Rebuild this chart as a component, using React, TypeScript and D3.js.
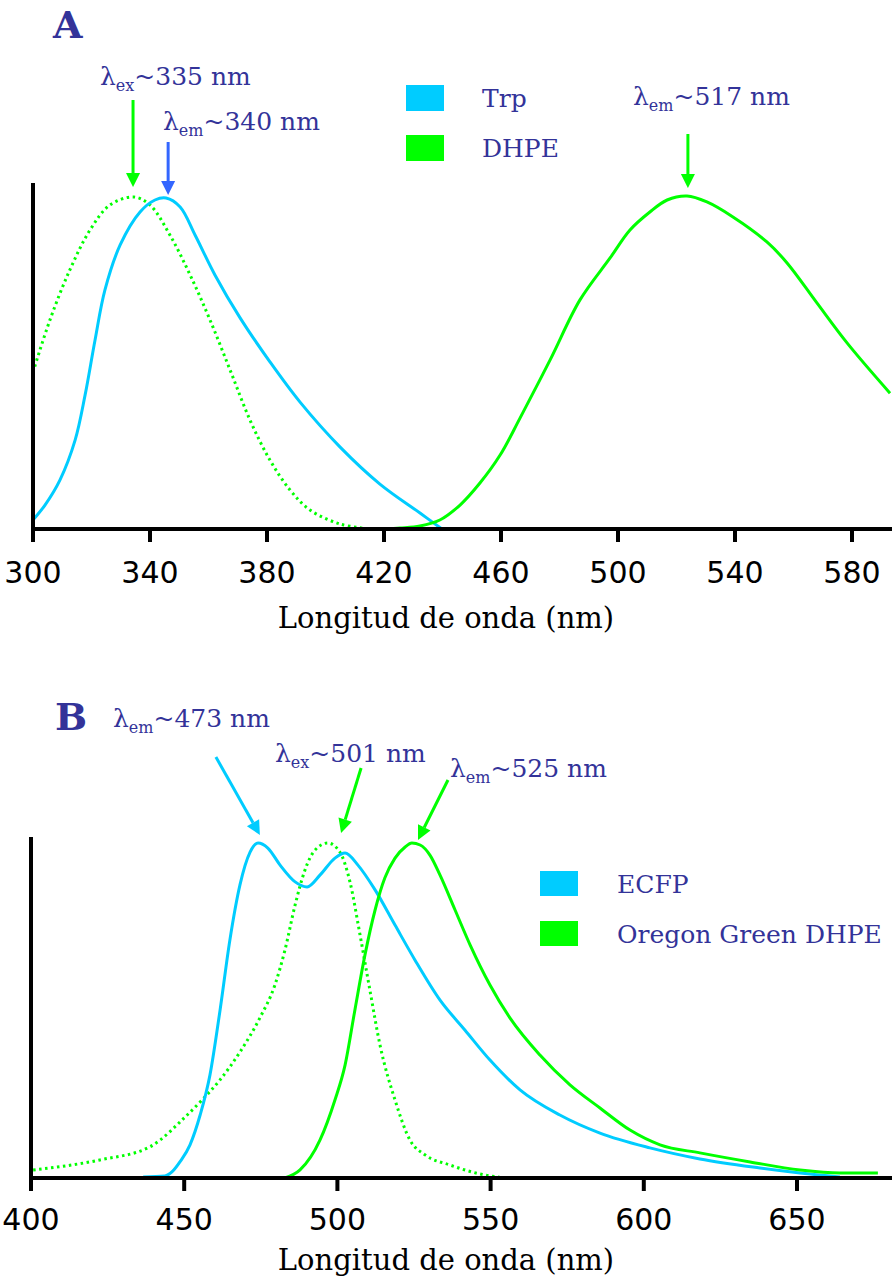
import React from 'react';
import * as d3 from 'd3';

// ---------------- Data ----------------
// Panel A (x in nm, relative intensity 0..1)
const trpNm = [300, 304.1, 309.2, 314.4, 317.8, 321.2, 324.6, 329.8, 336.6, 341.7, 345.5, 350.3, 355.4, 362.2, 370.8, 381, 391.3, 405, 418.6, 432.3, 439.8];
const trpVal = [0.027, 0.072, 0.147, 0.267, 0.402, 0.567, 0.718, 0.853, 0.952, 0.988, 0.994, 0.967, 0.883, 0.763, 0.634, 0.502, 0.381, 0.246, 0.135, 0.048, 0];

const dhpeExNm = [300, 305.8, 312.6, 319.5, 326.3, 334.5, 340, 346.8, 353.7, 360.5, 367.4, 374.2, 381, 387.9, 394.7, 405, 415.2];
const dhpeExVal = [0.471, 0.628, 0.778, 0.898, 0.973, 0.997, 0.973, 0.883, 0.763, 0.628, 0.477, 0.327, 0.207, 0.117, 0.057, 0.015, 0];

const dhpeEmNm = [420.3, 425.5, 432.3, 439.1, 446, 452.8, 459.7, 466.5, 476.8, 487, 497.3, 504.1, 510.9, 516.8, 523.6, 530.4, 539.3, 550.9, 557.8, 568, 578.3, 593];
const dhpeEmVal = [0, 0.003, 0.009, 0.027, 0.072, 0.138, 0.222, 0.333, 0.508, 0.688, 0.814, 0.898, 0.952, 0.988, 1.0, 0.982, 0.937, 0.862, 0.799, 0.679, 0.559, 0.408];

const ticksA = [300, 340, 380, 420, 460, 500, 540, 580];

// Panel B
const ecfpNm = [436.6, 443.7, 446, 448.6, 451.9, 455.2, 458.4, 461.7, 464.9, 468.2, 471.5, 474.1, 477.3, 481.3, 486.2, 490.1, 494.3, 499.2, 502.5, 506.7, 512.3, 518.8, 525.3, 533.5, 541.6, 549.8, 559.6, 572.6, 585.7, 602, 618.3, 637.9, 651, 664];
const ecfpVal = [0.003, 0.006, 0.018, 0.048, 0.099, 0.188, 0.307, 0.501, 0.71, 0.875, 0.973, 1.0, 0.985, 0.934, 0.884, 0.869, 0.904, 0.955, 0.97, 0.934, 0.86, 0.755, 0.651, 0.531, 0.442, 0.352, 0.263, 0.188, 0.134, 0.09, 0.057, 0.03, 0.015, 0.003];

const ogExNm = [400.7, 422.5, 438.8, 442.1, 448.6, 455.2, 461.7, 468.2, 474.7, 479.6, 482.9, 486.2, 489.4, 492.7, 496.9, 500.8, 504.1, 507.4, 510.6, 513.9, 518.8, 523.7, 528.6, 536.7, 546.5, 554.7];
const ogExVal = [0.024, 0.054, 0.093, 0.113, 0.167, 0.227, 0.293, 0.376, 0.478, 0.576, 0.681, 0.815, 0.919, 0.979, 1.0, 0.973, 0.884, 0.725, 0.561, 0.397, 0.233, 0.113, 0.069, 0.039, 0.012, 0];

const ogEmNm = [482.9, 487.8, 494.3, 499.2, 502.5, 505.7, 509, 512.3, 515.5, 518.8, 522.1, 524.3, 527, 530.2, 533.5, 538.4, 543.3, 549.8, 556.3, 566.1, 575.9, 585.7, 595.5, 605.3, 618.3, 634.7, 651, 664, 676.4];
const ogEmVal = [0, 0.024, 0.113, 0.233, 0.337, 0.501, 0.666, 0.8, 0.896, 0.955, 0.988, 1.0, 0.994, 0.964, 0.904, 0.8, 0.696, 0.576, 0.478, 0.367, 0.278, 0.209, 0.143, 0.099, 0.075, 0.048, 0.024, 0.015, 0.015];

const ticksB = [400, 450, 500, 550, 600, 650];

const legendA = ['Trp', 'DHPE'];
const legendB = ['ECFP', 'Oregon Green DHPE'];

// ---------------- Styles ----------------
const CYAN = '#00CCFF';
const GREEN = '#00FF00';
const BLUE_ARROW = '#3366FF';
const NAVY = '#333399';
const SERIF = 'DejaVu Serif';
const SANS = 'DejaVu Sans';

const W = 892;
const H = 1279;

type Pt = [number, number];
const zip = (a: number[], b: number[]): Pt[] => a.map((v, i) => [v, b[i]]);

function Arrow({ tip, dx, dy, color }: { tip: Pt; dx: number; dy: number; color: string }) {
  const [x, y] = tip;
  const len = Math.hypot(dx, dy);
  const ux = -dx / len, uy = -dy / len; // direction tail->tip
  const headL = 14, headW = 7;
  const bx = x - ux * headL, by = y - uy * headL;
  const px = -uy, py = ux;
  return (
    <g>
      <line x1={x + dx} y1={y + dy} x2={bx} y2={by} stroke={color} strokeWidth={3} />
      <polygon points={`${x},${y} ${bx + px * headW},${by + py * headW} ${bx - px * headW},${by - py * headW}`} fill={color} />
    </g>
  );
}

function Lambda({ x, y, sub, rest }: { x: number; y: number; sub: string; rest: string }) {
  return (
    <text x={x} y={y} fontFamily={SERIF} fontSize={25} fill={NAVY}>
      λ<tspan fontSize={16} dy={6}>{sub}</tspan><tspan dy={-6}>{rest}</tspan>
    </text>
  );
}

export default function App() {
  // Panel A scales
  const xA = d3.scaleLinear().domain([300, 600]).range([33, 33 + 300 * 2.925]);
  const yA = d3.scaleLinear().domain([0, 1]).range([529, 196]);
  // Panel B scales
  const xB = d3.scaleLinear().domain([400, 700]).range([31, 31 + 300 * 3.064]);
  const yB = d3.scaleLinear().domain([0, 1]).range([1178, 843]);

  const curve = d3.curveCatmullRom.alpha(0.5);
  const lineA = d3.line<Pt>().x(d => xA(d[0])).y(d => Math.min(yA(0), yA(d[1]))).curve(curve);
  const lineB = d3.line<Pt>().x(d => xB(d[0])).y(d => yB(d[1])).curve(d3.curveMonotoneX);

  const axisY0A = yA(0);
  const axisY0B = yB(0);

  return (
    <svg width={W} height={H} style={{ position: 'absolute', left: 0, top: 0 }}>
      <rect width={W} height={H} fill="#fff" />

      {/* ---------- Panel A ---------- */}
      <text x={53} y={38} fontFamily={SERIF} fontWeight="bold" fontSize={38} fill={NAVY}>A</text>

      <path d={lineA(zip(dhpeExNm, dhpeExVal)) || ''} fill="none" stroke={GREEN} strokeWidth={3} strokeDasharray="2.5,3.5" />
      <path d={lineA(zip(trpNm, trpVal)) || ''} fill="none" stroke={CYAN} strokeWidth={3} />
      <path d={lineA(zip(dhpeEmNm, dhpeEmVal)) || ''} fill="none" stroke={GREEN} strokeWidth={3} />

      {/* axes A */}
      <line x1={33} x2={33} y1={183} y2={axisY0A + 2} stroke="#000" strokeWidth={4} />
      <line x1={31} x2={W} y1={axisY0A} y2={axisY0A} stroke="#000" strokeWidth={4} />
      {ticksA.map(t => (
        <g key={t}>
          <line x1={xA(t)} x2={xA(t)} y1={axisY0A} y2={axisY0A + 13} stroke="#000" strokeWidth={4} />
          <text x={xA(t)} y={583} textAnchor="middle" fontFamily={SANS} fontSize={30} fill="#000">{t}</text>
        </g>
      ))}
      <text x={446} y={628} textAnchor="middle" fontFamily={SERIF} fontSize={29} fill="#000">Longitud de onda (nm)</text>

      {/* annotations A */}
      <Arrow tip={[xA(334.2), yA(1.027)]} dx={0} dy={-87} color={GREEN} />
      <Arrow tip={[xA(346.2), yA(1.003)]} dx={0} dy={-53} color={BLUE_ARROW} />
      <Arrow tip={[xA(523.9), yA(1.024)]} dx={0} dy={-54} color={GREEN} />
      <Lambda x={100} y={85} sub="ex" rest="~335 nm" />
      <Lambda x={163} y={130} sub="em" rest="~340 nm" />
      <Lambda x={633} y={105} sub="em" rest="~517 nm" />

      {/* legend A */}
      {legendA.map((l, i) => (
        <g key={l}>
          <rect x={406} y={85 + i * 50} width={38} height={26} fill={i === 0 ? CYAN : GREEN} />
          <text x={482} y={107 + i * 50} fontFamily={SERIF} fontSize={25} fill={NAVY}>{l}</text>
        </g>
      ))}

      {/* ---------- Panel B ---------- */}
      <text x={55} y={730} fontFamily={SERIF} fontWeight="bold" fontSize={38} fill={NAVY}>B</text>

      <path d={lineB(zip(ogExNm, ogExVal)) || ''} fill="none" stroke={GREEN} strokeWidth={3} strokeDasharray="2.5,3.5" />
      <path d={lineB(zip(ecfpNm, ecfpVal)) || ''} fill="none" stroke={CYAN} strokeWidth={3} />
      <path d={lineB(zip(ogEmNm, ogEmVal)) || ''} fill="none" stroke={GREEN} strokeWidth={3} />

      <line x1={31} x2={31} y1={837} y2={axisY0B + 2} stroke="#000" strokeWidth={4} />
      <line x1={29} x2={W} y1={axisY0B} y2={axisY0B} stroke="#000" strokeWidth={4} />
      {ticksB.map(t => (
        <g key={t}>
          <line x1={xB(t)} x2={xB(t)} y1={axisY0B} y2={axisY0B + 13} stroke="#000" strokeWidth={4} />
          <text x={xB(t)} y={1230} textAnchor="middle" fontFamily={SANS} fontSize={30} fill="#000">{t}</text>
        </g>
      ))}
      <text x={446} y={1270} textAnchor="middle" fontFamily={SERIF} fontSize={29} fill="#000">Longitud de onda (nm)</text>

      <Arrow tip={[xB(474.7), yB(1.024)]} dx={-44} dy={-78} color={CYAN} />
      <Arrow tip={[xB(501.2), yB(1.03)]} dx={20} dy={-65} color={GREEN} />
      <Arrow tip={[xB(526.3), yB(1.009)]} dx={30} dy={-60} color={GREEN} />
      <Lambda x={113} y={727} sub="em" rest="~473 nm" />
      <Lambda x={275} y={762} sub="ex" rest="~501 nm" />
      <Lambda x={450} y={777} sub="em" rest="~525 nm" />

      {legendB.map((l, i) => (
        <g key={l}>
          <rect x={540} y={871 + i * 50} width={38} height={25} fill={i === 0 ? CYAN : GREEN} />
          <text x={617} y={893 + i * 50} fontFamily={SERIF} fontSize={25} fill={NAVY}>{l}</text>
        </g>
      ))}
    </svg>
  );
}
